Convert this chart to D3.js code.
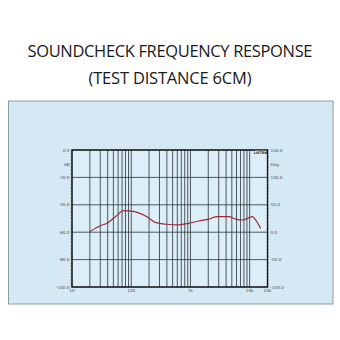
<!DOCTYPE html>
<html>
<head>
<meta charset="utf-8">
<script src="https://cdn.jsdelivr.net/npm/d3@7"></script>
<style>
body { margin: 0; background: #fff; }
svg { display: block; }
</style>
</head>
<body>
<div id="chart"></div>
<script>
// curve (Hz, dB)
var freqs = [20, 30, 39, 54, 74, 90, 125, 185, 255, 400, 595, 935, 1380, 2040, 2840, 4460, 5790, 7520, 11100, 12650, 15350];
var levels = [-59.6, -55.3, -53.5, -48.7, -44.3, -44.5, -45.5, -48.7, -52.8, -54.2, -54.7, -53.5, -51.8, -50.4, -48.7, -48.7, -50.4, -51.1, -48.7, -51.1, -57.2];

var dbTicks = [0, -20, -40, -60, -80, -100];
var dbLabels = ["0.0", "-20.0", "-40.0", "-60.0", "-80.0", "-100.0"];
var degLabels = ["150.0", "100.0", "50.0", "0.0", "-50.0", "-100.0"];
var freqLabels = [[10, "10"], [100, "100"], [1000, "1k"], [10000, "10k"], [20000, "20k"]];

var W = 340, H = 340;
var svg = d3.select("#chart").append("svg")
    .attr("width", W)
    .attr("height", H);

// title
svg.append("text")
    .attr("x", 170).attr("y", 57)
    .attr("text-anchor", "middle")
    .attr("font-family", "Open Sans, sans-serif")
    .attr("font-size", 16.5)
    .attr("fill", "#1a1a1a")
    .attr("textLength", 285)
    .text("SOUNDCHECK FREQUENCY RESPONSE");
svg.append("text")
    .attr("x", 170).attr("y", 84)
    .attr("text-anchor", "middle")
    .attr("font-family", "Open Sans, sans-serif")
    .attr("font-size", 16.5)
    .attr("fill", "#1a1a1a")
    .attr("textLength", 163)
    .text("(TEST DISTANCE 6CM)");

// blue panel
svg.append("rect")
    .attr("x", 8.5).attr("y", 101)
    .attr("width", 324.5).attr("height", 203)
    .attr("fill", "#d5e9f5")
    .attr("stroke", "#8d9ba3")
    .attr("stroke-width", 1);

var pLeft = 72, pRight = 267.5, pTop = 150, pBottom = 287;

var x = d3.scaleLog().domain([10, 20000]).range([pLeft, pRight]);
var y = d3.scaleLinear().domain([0, -100]).range([pTop, pBottom]);

var plot = svg.append("g");

plot.append("rect")
    .attr("x", pLeft).attr("y", pTop)
    .attr("width", pRight - pLeft).attr("height", pBottom - pTop)
    .attr("fill", "#dceef8");

// vertical grid
var gridF = [];
[10, 100, 1000, 10000].forEach(function(d){
    for(var i=1; i<10; i++){
        var f = d*i;
        if(f <= 20000) gridF.push(f);
    }
});
gridF.push(20000);

plot.selectAll("line.vg")
    .data(gridF)
    .enter().append("line")
    .attr("class", "vg")
    .attr("x1", function(d){ return x(d); })
    .attr("x2", function(d){ return x(d); })
    .attr("y1", pTop).attr("y2", pBottom)
    .attr("stroke", "#2b3238")
    .attr("stroke-width", 0.8);

// horizontal grid
plot.selectAll("line.hg")
    .data(dbTicks)
    .enter().append("line")
    .attr("class", "hg")
    .attr("x1", pLeft).attr("x2", pRight)
    .attr("y1", function(d){ return y(d); })
    .attr("y2", function(d){ return y(d); })
    .attr("stroke", "#2b3238")
    .attr("stroke-width", 0.8);

// frame
plot.append("rect")
    .attr("x", pLeft).attr("y", pTop)
    .attr("width", pRight - pLeft).attr("height", pBottom - pTop)
    .attr("fill", "none")
    .attr("stroke", "#111")
    .attr("stroke-width", 1.3);

// minor ticks on the side axes
var minor = d3.range(0, -101, -2.5);
plot.selectAll("line.ml")
    .data(minor)
    .enter().append("line")
    .attr("class", "ml")
    .attr("x1", pLeft - 1.5).attr("x2", pLeft)
    .attr("y1", function(d){ return y(d); })
    .attr("y2", function(d){ return y(d); })
    .attr("stroke", "#333").attr("stroke-width", 0.5);
plot.selectAll("line.mr")
    .data(minor)
    .enter().append("line")
    .attr("class", "mr")
    .attr("x1", pRight).attr("x2", pRight + 1.5)
    .attr("y1", function(d){ return y(d); })
    .attr("y2", function(d){ return y(d); })
    .attr("stroke", "#333").attr("stroke-width", 0.5);

// labels
var lab = svg.append("g")
    .attr("font-family", "DejaVu Sans, sans-serif")
    .attr("font-size", 4.2)
    .attr("fill", "#4a4f55");

lab.selectAll("text.l")
    .data(dbTicks)
    .enter().append("text")
    .attr("class", "l")
    .attr("x", pLeft - 2.5)
    .attr("y", function(d){ return y(d) + 1.5; })
    .attr("text-anchor", "end")
    .text(function(d, i){ return dbLabels[i]; });
lab.append("text")
    .attr("x", pLeft - 2.5).attr("y", 165.5)
    .attr("text-anchor", "end")
    .text("dB");

lab.selectAll("text.r")
    .data(dbTicks)
    .enter().append("text")
    .attr("class", "r")
    .attr("x", pRight + 3)
    .attr("y", function(d){ return y(d) + 1.5; })
    .text(function(d, i){ return degLabels[i]; });
lab.append("text")
    .attr("x", pRight + 3).attr("y", 165.5)
    .text("Deg");

lab.selectAll("text.f")
    .data(freqLabels)
    .enter().append("text")
    .attr("class", "f")
    .attr("x", function(d){ return x(d[0]); })
    .attr("y", pBottom + 5)
    .attr("text-anchor", "middle")
    .text(function(d){ return d[1]; });

// small logo top right
svg.append("rect")
    .attr("x", 255).attr("y", 150.7)
    .attr("width", 11).attr("height", 3.5)
    .attr("fill", "#dceef8");
svg.append("text")
    .attr("x", 260.5).attr("y", 153.8)
    .attr("text-anchor", "middle")
    .attr("font-family", "DejaVu Sans, sans-serif")
    .attr("font-size", 3.4)
    .attr("font-weight", "bold")
    .attr("fill", "#222")
    .text("LISTEN");

// response curve
var pts = freqs.map(function(f, i){ return [f, levels[i]]; });
var line = d3.line()
    .x(function(d){ return x(d[0]); })
    .y(function(d){ return y(d[1]); })
    .curve(d3.curveMonotoneX);

plot.append("path")
    .datum(pts)
    .attr("d", line)
    .attr("fill", "none")
    .attr("stroke", "#9b2a35")
    .attr("stroke-width", 1.2);
</script>
</body>
</html>
